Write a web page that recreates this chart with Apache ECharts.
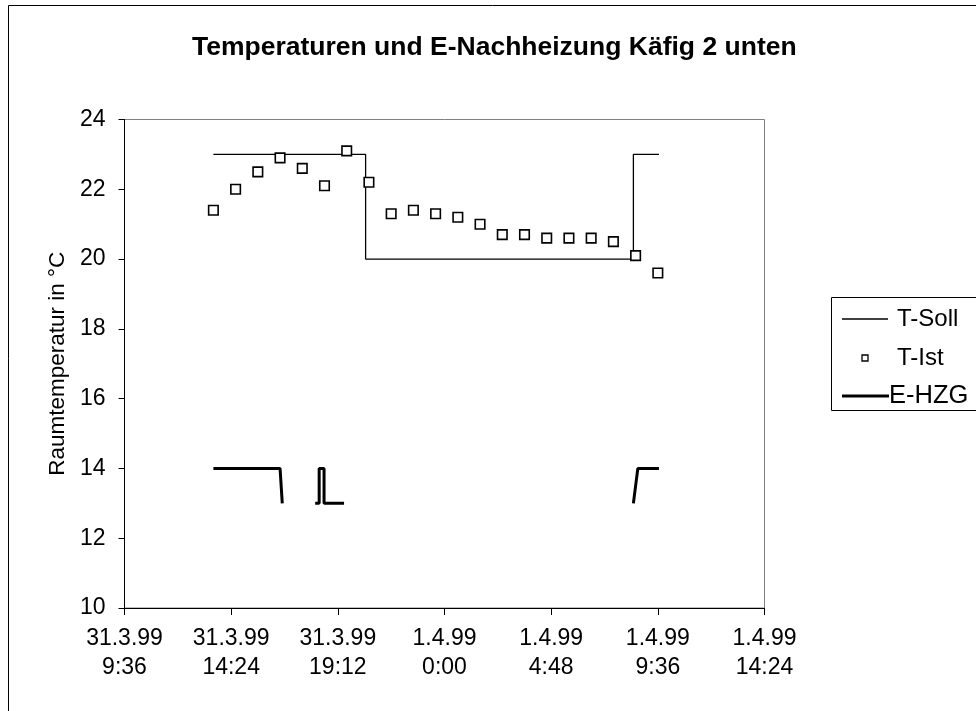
<!DOCTYPE html>
<html>
<head>
<meta charset="utf-8">
<script src="https://cdn.jsdelivr.net/npm/echarts@6/dist/echarts.min.js"></script>
<style>
html,body{margin:0;padding:0;background:#fff;}
#chart{width:976px;height:711px;}
</style>
</head>
<body>
<div id="chart"></div>
<script>
// Time in hours since 31.3.99 9:36
var titleText = 'Temperaturen und E-Nachheizung Käfig 2 unten';
var yAxisName = 'Raumtemperatur in °C';
var xTickLabels = ['31.3.99\n9:36', '31.3.99\n14:24', '31.3.99\n19:12', '1.4.99\n0:00', '1.4.99\n4:48', '1.4.99\n9:36', '1.4.99\n14:24'];

var tSollHours  = [4, 10.85, 10.85, 22.9, 22.9, 24.05];
var tSollValues = [23, 23, 20, 20, 23, 23];

var tIstHours  = [4, 5, 6, 7, 8, 9, 10, 11, 12, 13, 14, 15, 16, 17, 18, 19, 20, 21, 22, 23, 24];
var tIstValues = [21.4, 22.0, 22.5, 22.9, 22.6, 22.1, 23.1, 22.2, 21.3, 21.4, 21.3, 21.2, 21.0, 20.7, 20.7, 20.6, 20.6, 20.6, 20.5, 20.1, 19.6];

var eHzgHours  = [4, 7.0, 7.1, 7.5, 8.58, 8.76, 8.76, 8.98, 8.98, 9.88, 15, 22.9, 23.1, 24.05];
var eHzgValues = [14, 14, 13, null, 13, 13, 14, 14, 13, 13, null, 13, 14, 14];

function toPairs(hours, values) {
  var out = [];
  for (var i = 0; i < hours.length; i++) out.push([hours[i] * 60, values[i]]);
  return out;
}

var chart = echarts.init(document.getElementById('chart'), null, {renderer: 'canvas'});
var FONT = '"Liberation Sans", Arial, sans-serif';

var option = {
  backgroundColor: '#ffffff',
  animation: false,
  textStyle: {fontFamily: FONT, color: '#000'},
  title: {
    text: titleText,
    left: 192,
    top: 34,
    padding: 0,
    textStyle: {fontFamily: FONT, fontSize: 26.5, fontWeight: 'bold', color: '#000'}
  },
  grid: {
    left: 124.5, top: 119.5, width: 640, height: 488.5,
    show: true, borderColor: '#808080', borderWidth: 1, backgroundColor: 'transparent'
  },
  xAxis: {
    type: 'value',
    min: 0, max: 1728, interval: 288,
    splitLine: {show: false},
    axisLine: {lineStyle: {color: '#000', width: 1}},
    axisTick: {show: true, length: 7, inside: false, lineStyle: {color: '#000'}},
    axisLabel: {
      fontFamily: FONT, fontSize: 23, color: '#000', margin: 16, lineHeight: 29,
      formatter: function (v) { return xTickLabels[Math.round(v / 288)] || ''; }
    }
  },
  yAxis: {
    type: 'value',
    min: 10, max: 24, interval: 2,
    name: yAxisName,
    nameLocation: 'middle',
    nameGap: 42,
    nameTextStyle: {fontFamily: FONT, fontSize: 22.5, color: '#000'},
    splitLine: {show: false},
    axisLine: {show: true, lineStyle: {color: '#000', width: 1}},
    axisTick: {show: true, length: 6, lineStyle: {color: '#000'}},
    axisLabel: {fontFamily: FONT, fontSize: 23, color: '#000', margin: 19}
  },
  legend: {show: false},
  series: [
    {
      name: 'T-Soll', type: 'line', symbol: 'none',
      data: toPairs(tSollHours, tSollValues),
      lineStyle: {color: '#000', width: 1.3}, z: 2
    },
    {
      name: 'E-HZG', type: 'line', symbol: 'none', connectNulls: false,
      data: toPairs(eHzgHours, eHzgValues),
      lineStyle: {color: '#000', width: 3}, z: 2
    },
    {
      name: 'T-Ist', type: 'scatter', symbol: 'rect', symbolSize: 9.5,
      data: toPairs(tIstHours, tIstValues),
      itemStyle: {color: '#fff', borderColor: '#000', borderWidth: 1.6, opacity: 1}, z: 3
    }
  ],
  graphic: [
    {type: 'rect', silent: true, z: 0, shape: {x: 8.5, y: 5.5, width: 1200, height: 1000},
     style: {fill: 'none', stroke: '#000', lineWidth: 1}},
    {type: 'rect', silent: true, z: 10, shape: {x: 831.5, y: 297.5, width: 300, height: 113},
     style: {fill: '#fff', stroke: '#000', lineWidth: 1}},
    {type: 'line', silent: true, z: 11, shape: {x1: 842, y1: 319, x2: 888, y2: 319},
     style: {stroke: '#000', lineWidth: 1.3}},
    {type: 'text', silent: true, z: 11, x: 897, y: 319,
     style: {text: 'T-Soll', font: '24px ' + FONT, fill: '#000', verticalAlign: 'middle', align: 'left'}},
    {type: 'rect', silent: true, z: 11, shape: {x: 862, y: 355, width: 6, height: 6},
     style: {fill: '#fff', stroke: '#000', lineWidth: 1.3}},
    {type: 'text', silent: true, z: 11, x: 897, y: 358,
     style: {text: 'T-Ist', font: '24px ' + FONT, fill: '#000', verticalAlign: 'middle', align: 'left'}},
    {type: 'line', silent: true, z: 11, shape: {x1: 842, y1: 396, x2: 889, y2: 396},
     style: {stroke: '#000', lineWidth: 3}},
    {type: 'text', silent: true, z: 11, x: 889, y: 396,
     style: {text: 'E-HZG', font: '25.5px ' + FONT, fill: '#000', verticalAlign: 'middle', align: 'left'}}
  ]
};
chart.setOption(option);
</script>
</body>
</html>
